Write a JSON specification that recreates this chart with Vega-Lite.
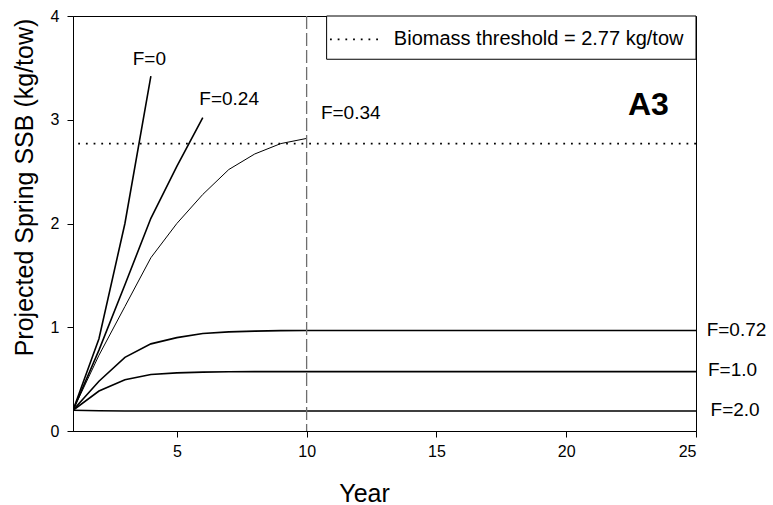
{
  "$schema": "https://vega.github.io/schema/vega-lite/v6.json",
  "width": 623,
  "height": 415,
  "autosize": {"type": "none"},
  "padding": {"left": 73, "top": 16, "right": 77, "bottom": 74},
  "background": "white",
  "config": {
    "view": {"stroke": "black", "strokeWidth": 1},
    "font": "Liberation Sans",
    "axis": {
      "grid": false,
      "domainColor": "black",
      "tickColor": "black",
      "labelColor": "black",
      "titleColor": "black",
      "labelFont": "Liberation Sans Narrow, Liberation Sans",
      "titleFont": "Liberation Sans",
      "titleFontWeight": "normal",
      "tickSize": 6,
      "domainWidth": 1,
      "tickWidth": 1
    }
  },
  "datasets": {
    "series": [
      {"F": "F=0", "year": 1, "ssb": 0.2},
      {"F": "F=0", "year": 2, "ssb": 0.89},
      {"F": "F=0", "year": 3, "ssb": 2.0},
      {"F": "F=0", "year": 4, "ssb": 3.42},
      {"F": "F=0.24", "year": 1, "ssb": 0.2},
      {"F": "F=0.24", "year": 2, "ssb": 0.78},
      {"F": "F=0.24", "year": 3, "ssb": 1.41},
      {"F": "F=0.24", "year": 4, "ssb": 2.05},
      {"F": "F=0.24", "year": 5, "ssb": 2.55},
      {"F": "F=0.24", "year": 6, "ssb": 3.02},
      {"F": "F=0.34", "year": 1, "ssb": 0.2},
      {"F": "F=0.34", "year": 2, "ssb": 0.73},
      {"F": "F=0.34", "year": 3, "ssb": 1.2},
      {"F": "F=0.34", "year": 4, "ssb": 1.67},
      {"F": "F=0.34", "year": 5, "ssb": 2.0},
      {"F": "F=0.34", "year": 6, "ssb": 2.28},
      {"F": "F=0.34", "year": 7, "ssb": 2.52},
      {"F": "F=0.34", "year": 8, "ssb": 2.67},
      {"F": "F=0.34", "year": 9, "ssb": 2.77},
      {"F": "F=0.34", "year": 10, "ssb": 2.82},
      {"F": "F=0.72", "year": 1, "ssb": 0.2},
      {"F": "F=0.72", "year": 2, "ssb": 0.48},
      {"F": "F=0.72", "year": 3, "ssb": 0.71},
      {"F": "F=0.72", "year": 4, "ssb": 0.84},
      {"F": "F=0.72", "year": 5, "ssb": 0.9},
      {"F": "F=0.72", "year": 6, "ssb": 0.94},
      {"F": "F=0.72", "year": 7, "ssb": 0.955},
      {"F": "F=0.72", "year": 8, "ssb": 0.963},
      {"F": "F=0.72", "year": 9, "ssb": 0.967},
      {"F": "F=0.72", "year": 10, "ssb": 0.968},
      {"F": "F=0.72", "year": 11, "ssb": 0.968},
      {"F": "F=0.72", "year": 12, "ssb": 0.968},
      {"F": "F=0.72", "year": 13, "ssb": 0.968},
      {"F": "F=0.72", "year": 14, "ssb": 0.968},
      {"F": "F=0.72", "year": 15, "ssb": 0.968},
      {"F": "F=0.72", "year": 16, "ssb": 0.968},
      {"F": "F=0.72", "year": 17, "ssb": 0.968},
      {"F": "F=0.72", "year": 18, "ssb": 0.968},
      {"F": "F=0.72", "year": 19, "ssb": 0.968},
      {"F": "F=0.72", "year": 20, "ssb": 0.968},
      {"F": "F=0.72", "year": 21, "ssb": 0.968},
      {"F": "F=0.72", "year": 22, "ssb": 0.968},
      {"F": "F=0.72", "year": 23, "ssb": 0.968},
      {"F": "F=0.72", "year": 24, "ssb": 0.968},
      {"F": "F=0.72", "year": 25, "ssb": 0.968},
      {"F": "F=1.0", "year": 1, "ssb": 0.2},
      {"F": "F=1.0", "year": 2, "ssb": 0.385},
      {"F": "F=1.0", "year": 3, "ssb": 0.495},
      {"F": "F=1.0", "year": 4, "ssb": 0.545},
      {"F": "F=1.0", "year": 5, "ssb": 0.56},
      {"F": "F=1.0", "year": 6, "ssb": 0.567},
      {"F": "F=1.0", "year": 7, "ssb": 0.571},
      {"F": "F=1.0", "year": 8, "ssb": 0.572},
      {"F": "F=1.0", "year": 9, "ssb": 0.572},
      {"F": "F=1.0", "year": 10, "ssb": 0.572},
      {"F": "F=1.0", "year": 11, "ssb": 0.572},
      {"F": "F=1.0", "year": 12, "ssb": 0.572},
      {"F": "F=1.0", "year": 13, "ssb": 0.572},
      {"F": "F=1.0", "year": 14, "ssb": 0.572},
      {"F": "F=1.0", "year": 15, "ssb": 0.572},
      {"F": "F=1.0", "year": 16, "ssb": 0.572},
      {"F": "F=1.0", "year": 17, "ssb": 0.572},
      {"F": "F=1.0", "year": 18, "ssb": 0.572},
      {"F": "F=1.0", "year": 19, "ssb": 0.572},
      {"F": "F=1.0", "year": 20, "ssb": 0.572},
      {"F": "F=1.0", "year": 21, "ssb": 0.572},
      {"F": "F=1.0", "year": 22, "ssb": 0.572},
      {"F": "F=1.0", "year": 23, "ssb": 0.572},
      {"F": "F=1.0", "year": 24, "ssb": 0.572},
      {"F": "F=1.0", "year": 25, "ssb": 0.572},
      {"F": "F=2.0", "year": 1, "ssb": 0.2},
      {"F": "F=2.0", "year": 2, "ssb": 0.195},
      {"F": "F=2.0", "year": 3, "ssb": 0.193},
      {"F": "F=2.0", "year": 4, "ssb": 0.193},
      {"F": "F=2.0", "year": 5, "ssb": 0.193},
      {"F": "F=2.0", "year": 6, "ssb": 0.193},
      {"F": "F=2.0", "year": 7, "ssb": 0.193},
      {"F": "F=2.0", "year": 8, "ssb": 0.193},
      {"F": "F=2.0", "year": 9, "ssb": 0.193},
      {"F": "F=2.0", "year": 10, "ssb": 0.193},
      {"F": "F=2.0", "year": 11, "ssb": 0.193},
      {"F": "F=2.0", "year": 12, "ssb": 0.193},
      {"F": "F=2.0", "year": 13, "ssb": 0.193},
      {"F": "F=2.0", "year": 14, "ssb": 0.193},
      {"F": "F=2.0", "year": 15, "ssb": 0.193},
      {"F": "F=2.0", "year": 16, "ssb": 0.193},
      {"F": "F=2.0", "year": 17, "ssb": 0.193},
      {"F": "F=2.0", "year": 18, "ssb": 0.193},
      {"F": "F=2.0", "year": 19, "ssb": 0.193},
      {"F": "F=2.0", "year": 20, "ssb": 0.193},
      {"F": "F=2.0", "year": 21, "ssb": 0.193},
      {"F": "F=2.0", "year": 22, "ssb": 0.193},
      {"F": "F=2.0", "year": 23, "ssb": 0.193},
      {"F": "F=2.0", "year": 24, "ssb": 0.193},
      {"F": "F=2.0", "year": 25, "ssb": 0.193}
    ],
    "labels": [
      {"label": "F=0", "year": 3.3, "value": 3.528},
      {"label": "F=0.24", "year": 5.865, "value": 3.142},
      {"label": "F=0.34", "year": 10.55, "value": 3.007},
      {"label": "F=0.72", "year": 25.41, "value": 0.916},
      {"label": "F=1.0", "year": 25.46, "value": 0.53},
      {"label": "F=2.0", "year": 25.56, "value": 0.145}
    ]
  },
  "layer": [
    {
      "data": {"name": "series"},
      "mark": {"type": "line", "color": "black", "clip": true},
      "encoding": {
        "x": {
          "field": "year",
          "type": "quantitative",
          "scale": {"domain": [1, 25], "nice": false, "zero": false},
          "axis": {
            "values": [5, 10, 15, 20, 25],
            "format": "d",
            "title": "Year",
            "labelFontSize": 16,
            "titleFontSize": 25,
            "titleFont": "Liberation Sans Narrow, Liberation Sans",
            "labelPadding": 6,
            "titleX": 291,
            "titleY": 70,
            "titleBaseline": "alphabetic",
            "titleAnchor": null,
            "titleAlign": "center"
          }
        },
        "y": {
          "field": "ssb",
          "type": "quantitative",
          "scale": {"domain": [0, 4], "nice": false},
          "axis": {
            "values": [0, 1, 2, 3, 4],
            "format": "d",
            "title": "Projected Spring SSB (kg/tow)",
            "labelFontSize": 16,
            "titleFontSize": 25,
            "labelPadding": 8,
            "titleX": -49,
            "titleY": 171,
            "titleAngle": -90,
            "titleBaseline": "middle",
            "titleAlign": "center",
            "titleAnchor": null
          }
        },
        "detail": {"field": "F"},
        "strokeWidth": {
          "condition": {"test": "datum.F === 'F=0.34'", "value": 1},
          "value": 1.6
        }
      }
    },
    {
      "data": {"values": [{"threshold": 2.77}]},
      "mark": {"type": "rule", "color": "black", "strokeWidth": 1.8, "strokeDash": [1.8, 5.9]},
      "encoding": {"y": {"field": "threshold", "type": "quantitative"}}
    },
    {
      "data": {"values": [{"year": 10}]},
      "mark": {"type": "rule", "color": "#6e6e6e", "strokeWidth": 1.3, "strokeDash": [13, 4]},
      "encoding": {"x": {"field": "year", "type": "quantitative"}}
    },
    {
      "data": {"values": [{"x1": 10.77, "x2": 25, "y1": 4, "y2": 3.583}]},
      "mark": {"type": "rect", "fill": "white", "stroke": "black", "strokeWidth": 1},
      "encoding": {
        "x": {"field": "x1", "type": "quantitative"},
        "x2": {"field": "x2"},
        "y": {"field": "y1", "type": "quantitative"},
        "y2": {"field": "y2"}
      }
    },
    {
      "data": {"values": [{"x1": 10.9, "x2": 12.83, "y": 3.775}]},
      "mark": {"type": "rule", "color": "black", "strokeWidth": 1.8, "strokeDash": [1.8, 5.9]},
      "encoding": {
        "x": {"field": "x1", "type": "quantitative"},
        "x2": {"field": "x2"},
        "y": {"field": "y", "type": "quantitative"}
      }
    },
    {
      "data": {"values": [{"label": "Biomass threshold = 2.77 kg/tow", "year": 13.36, "value": 3.72}]},
      "mark": {"type": "text", "align": "left", "baseline": "alphabetic", "fontSize": 20, "font": "Liberation Sans", "color": "black"},
      "encoding": {
        "x": {"field": "year", "type": "quantitative"},
        "y": {"field": "value", "type": "quantitative"},
        "text": {"field": "label"}
      }
    },
    {
      "data": {"name": "labels"},
      "mark": {"type": "text", "align": "left", "baseline": "alphabetic", "fontSize": 19, "font": "Liberation Sans", "color": "black"},
      "encoding": {
        "x": {"field": "year", "type": "quantitative"},
        "y": {"field": "value", "type": "quantitative"},
        "text": {"field": "label"}
      }
    },
    {
      "data": {"values": [{"label": "A3", "year": 22.38, "value": 3.046}]},
      "mark": {"type": "text", "align": "left", "baseline": "alphabetic", "fontSize": 32, "fontWeight": "bold", "font": "Liberation Sans", "color": "black"},
      "encoding": {
        "x": {"field": "year", "type": "quantitative"},
        "y": {"field": "value", "type": "quantitative"},
        "text": {"field": "label"}
      }
    }
  ]
}
